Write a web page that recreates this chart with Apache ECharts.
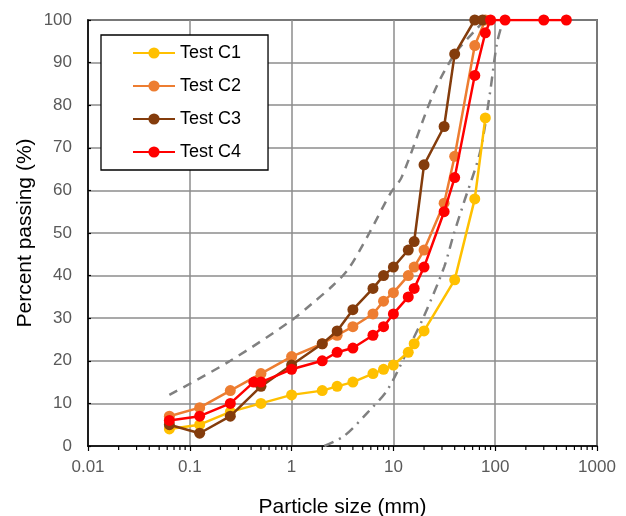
<!DOCTYPE html>
<html>
<head>
<meta charset="utf-8">
<script src="https://cdn.jsdelivr.net/npm/echarts@6/dist/echarts.min.js"></script>
<style>html,body{margin:0;padding:0;background:#fff}#c{width:626px;height:516px}</style>
</head>
<body>
<div id="c"></div>
<script>
const sizesC1 = [0.063,0.125,0.25,0.5,1,2,2.8,4,6.3,8,10,14,16,20,40,63,80];
const passC1  = [4,5,8,10,12,13,14,15,17,18,19,22,24,27,39,58,77];
const sizesC2 = [0.063,0.125,0.25,0.5,1,2,2.8,4,6.3,8,10,14,16,20,31.5,40,63,80];
const passC2  = [7,9,13,17,21,24,26,28,31,34,36,40,42,46,57,68,94,100];
const sizesC3 = [0.063,0.125,0.25,0.5,1,2,2.8,4,6.3,8,10,14,16,20,31.5,40,63,75];
const passC3  = [5,3,7,14,19,24,27,32,37,40,42,46,48,66,75,92,100,100];
const sizesC4 = [0.063,0.125,0.25,0.425,0.5,1,2,2.8,4,6.3,8,10,14,16,20,31.5,40,63,80,90,125,300,500];
const passC4  = [6,7,10,15,15,18,20,22,23,26,28,31,35,37,42,55,63,87,97,100,100,100,100];
const upperSizes = [0.063,0.25,1,1.6,2.5,3.6,5.8,9.4,12,25,40,66,80];
const upperPass  = [12,20,29.5,33.5,37.5,41.5,50,59.4,63,83,92,98,100];
const lowerSizes = [2.1,3.3,5.6,8.8,14.8,20,31.5,39,49,71,89,104,120];
const lowerPass  = [0,2.4,7.9,13.3,24,30.5,42,49.6,57,69,83,94.5,100];
const xTickLabels = ['0.01','0.1','1','10','100','1000'];
const xTickValues = [0.01,0.1,1,10,100,1000];
const yTickValues = [0,10,20,30,40,50,60,70,80,90,100];
const minorTickValues = [];
for (let k = 0; k < 5; k++) for (let m = 2; m <= 9; m++) minorTickValues.push(m * Math.pow(10, k - 2));

const names = ['Test C1','Test C2','Test C3','Test C4'];
const colors = ['#FFC000','#ED7D31','#843C0C','#FF0000'];
const sizeSets = [sizesC1,sizesC2,sizesC3,sizesC4];
const passSets = [passC1,passC2,passC3,passC4];
const zip = (a,b) => a.map((v,i)=>[v,b[i]]);

const chart = echarts.init(document.getElementById('c'), null, {renderer:'canvas'});
const FONT = 'Liberation Sans, Arial, sans-serif';

const series = [
  {type:'line', name:'upper', data:zip(upperSizes,upperPass), showSymbol:false, symbol:'none', smooth:0.3,
   lineStyle:{color:'#808080', width:2.5, type:[9,7]}, silent:true, z:2},
  {type:'line', name:'lower', data:zip(lowerSizes,lowerPass), showSymbol:false, symbol:'none', smooth:0.3,
   lineStyle:{color:'#808080', width:2.5, type:[10,6,2,6]}, silent:true, z:2},
  {type:'custom', name:'minor', silent:true, clip:false, z:5,
   data: minorTickValues.map(v=>[v,0]),
   renderItem:(params, api) => {
     const p = api.coord([api.value(0), 0]);
     return {type:'line', shape:{x1:p[0], y1:p[1], x2:p[0], y2:p[1]+4}, style:{stroke:'#000', lineWidth:1.2}};
   }}
];
names.forEach((n,i)=>{
  series.push({type:'line', name:n, data:zip(sizeSets[i],passSets[i]), symbol:'circle', symbolSize:11,
    itemStyle:{color:colors[i]}, lineStyle:{color:colors[i], width:2.5}, z:10+i});
});

chart.setOption({
  animation:false,
  backgroundColor:'#fff',
  grid:{left:88, right:29, top:20, bottom:70, show:true, borderColor:'#000', borderWidth:1.5,
    containLabel:false, outerBoundsMode:'none'},
  legend:{data:names, orient:'vertical', left:101, top:35, itemWidth:42, itemHeight:14, itemGap:15,
    padding:[9,27,9,31], backgroundColor:'#fff', borderColor:'#000', borderWidth:1.3,
    textStyle:{fontFamily:FONT, fontSize:18, lineHeight:14, color:'#000'}},
  xAxis:{type:'log', logBase:10, min:0.01, max:1000,
    name:'Particle size (mm)', nameLocation:'middle', nameGap:51,
    nameTextStyle:{fontFamily:FONT, fontSize:21, color:'#000'},
    axisLine:{show:true, lineStyle:{color:'#000', width:1.5}},
    axisTick:{show:true, inside:false, length:5, lineStyle:{color:'#000', width:1.2}},
    minorTick:{show:false},
    splitLine:{show:true, lineStyle:{color:'#8c8c8c', width:1.5}},
    axisLabel:{fontFamily:FONT, fontSize:17, color:'#595959', margin:13,
      formatter:(v)=>{ const i = xTickValues.findIndex(t=>Math.abs(Math.log10(t)-Math.log10(v))<1e-6); return i>=0?xTickLabels[i]:''; }}
  },
  yAxis:{type:'value', min:0, max:100, interval:10,
    name:'Percent passing (%)', nameLocation:'middle', nameGap:52, nameMoveOverlap:false,
    nameTextStyle:{fontFamily:FONT, fontSize:21, color:'#000'},
    axisLine:{show:true, lineStyle:{color:'#000', width:1.5}},
    axisTick:{show:true, inside:true, length:3, lineStyle:{color:'#000', width:1.2}},
    splitLine:{show:true, lineStyle:{color:'#8c8c8c', width:1.5}},
    axisLabel:{fontFamily:FONT, fontSize:17, color:'#595959', margin:16,
      formatter:(v)=> yTickValues.includes(v) ? String(v) : ''}
  },
  series
});
</script>
</body>
</html>
